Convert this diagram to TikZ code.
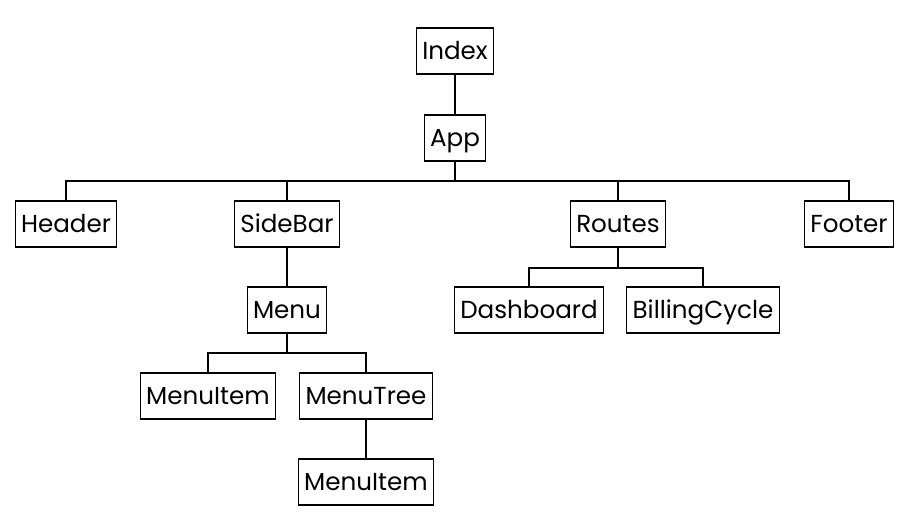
\documentclass[tikz,border=0pt]{standalone}
\usepackage{fontspec}
\setmainfont{Poppins}
\usepackage{tikz}

\begin{document}
\begin{tikzpicture}[x=0.03cm,y=-0.03cm,
  comp/.style={draw,line width=1.1pt,minimum height=1.38cm,inner xsep=5pt,
    text height=15pt,text depth=1pt,font=\fontsize{21}{25}\selectfont},
  link/.style={line width=1.1pt}]
\useasboundingbox[fill=white] (0,0) rectangle (907,520);

\node[comp] (index) at (455,51) {Index};
\node[comp] (app) at (455,138) {App};

\node[comp] (header) at (66,224) {Header};
\node[comp] (sidebar) at (287,224) {SideBar};
\node[comp] (routes) at (618,224) {Routes};
\node[comp] (footer) at (849,224) {Footer};

\node[comp] (menu) at (287,310) {Menu};
\node[comp] (dash) at (529,310) {Dashboard};
\node[comp] (billing) at (703,310) {BillingCycle};

\node[comp] (item) at (208,396) {MenuItem};
\node[comp] (tree) at (366,396) {MenuTree};
\node[comp] (subitem) at (366,482) {MenuItem};

\coordinate (bar) at (455,181);
\coordinate (routebar) at (618,268);
\coordinate (menubar) at (287,353);

\draw[link] (index) -- (app);
\draw[link] (app) -- (bar);
\draw[link] (header.north) |- (bar) -| (footer.north);
\draw[link] (sidebar.north) -- (sidebar.north |- bar);
\draw[link] (routes.north) -- (routes.north |- bar);

\draw[link] (sidebar) -- (menu);
\draw[link] (routes) -- (routebar);
\draw[link] (dash.north) |- (routebar) -| (billing.north);

\draw[link] (menu) -- (menubar);
\draw[link] (item.north) |- (menubar) -| (tree.north);
\draw[link] (tree) -- (subitem);
\end{tikzpicture}
\end{document}
